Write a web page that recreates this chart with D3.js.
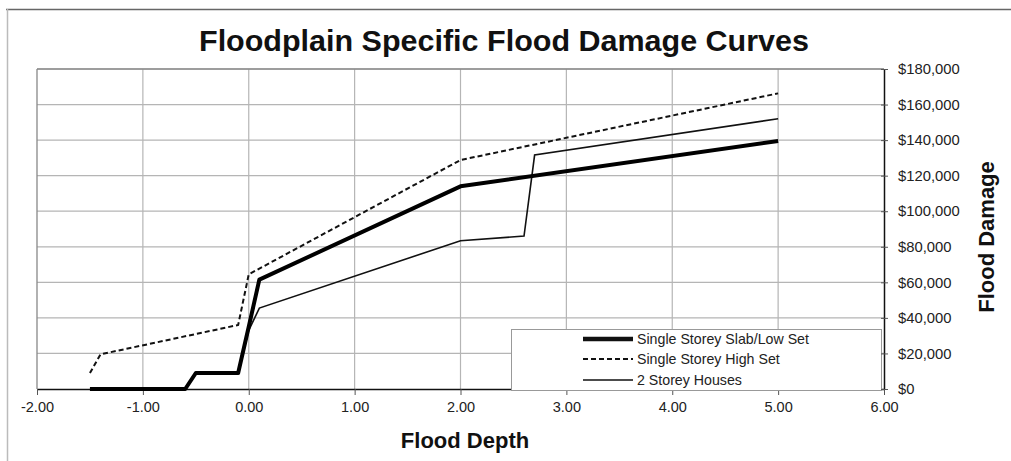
<!DOCTYPE html>
<html><head><meta charset="utf-8">
<script src="https://cdn.jsdelivr.net/npm/d3@7"></script>
<style>
body{margin:0;background:#fff;}
svg{display:block;font-family:"Liberation Sans",Arial,sans-serif;}
</style></head>
<body><svg id="c" width="1011" height="461"></svg>
<script>
const title = "Floodplain Specific Flood Damage Curves";
const xLabel = "Flood Depth";
const yLabel = "Flood Damage";
const xTicks = [-2, -1, 0, 1, 2, 3, 4, 5, 6];
const yTicks = [0, 20000, 40000, 60000, 80000, 100000, 120000, 140000, 160000, 180000];
const seriesNames = ["Single Storey Slab/Low Set", "Single Storey High Set", "2 Storey Houses"];
const slabDepth = [-1.5, -0.6, -0.5, -0.1, 0.0, 0.1, 2.0, 5.0];
const slabDamage = [0, 0, 9000, 9000, 35000, 61500, 114000, 139500];
const highDepth = [-1.5, -1.4, -0.1, 0.0, 2.0, 5.0];
const highDamage = [9000, 19500, 36000, 64500, 128800, 166300];
const twoDepth = [-1.5, -0.6, -0.5, -0.1, 0.0, 0.1, 2.0, 2.6, 2.7, 5.0];
const twoDamage = [0, 0, 9000, 9000, 33000, 45500, 83400, 86000, 131600, 152000];

const svg = d3.select("#c");
const x = d3.scaleLinear().domain([-2, 6]).range([37, 884]);
const y = d3.scaleLinear().domain([0, 180000]).range([389, 69]);

// outer frame
svg.append("line").attr("x1", 6).attr("x2", 1011).attr("y1", 9.5).attr("y2", 9.5).attr("stroke", "#666").attr("stroke-width", 1.5);
svg.append("line").attr("x1", 7.5).attr("x2", 7.5).attr("y1", 9).attr("y2", 461).attr("stroke", "#bbb").attr("stroke-width", 1.5);

// title
svg.append("text").attr("x", 504).attr("y", 51).attr("text-anchor", "middle")
  .attr("font-size", 29).attr("font-weight", "bold").attr("fill", "#111")
  .attr("textLength", 610).attr("lengthAdjust", "spacingAndGlyphs").text(title);

// gridlines
const g = svg.append("g");
g.selectAll(".vg").data(xTicks.filter(d => d > -2 && d < 6)).join("line")
  .attr("x1", d => x(d)).attr("x2", d => x(d)).attr("y1", y(180000)).attr("y2", y(0))
  .attr("stroke", "#b5b5b5").attr("stroke-width", 1.2);
g.selectAll(".hg").data(yTicks.filter(d => d > 0)).join("line")
  .attr("x1", x(-2)).attr("x2", x(6)).attr("y1", d => y(d)).attr("y2", d => y(d))
  .attr("stroke", "#b5b5b5").attr("stroke-width", 1.2);
// plot border left/top
svg.append("line").attr("x1", x(-2)).attr("x2", x(-2)).attr("y1", y(180000)).attr("y2", y(0)).attr("stroke", "#888").attr("stroke-width", 1.3);
svg.append("line").attr("x1", x(-2)).attr("x2", x(6)).attr("y1", y(180000)).attr("y2", y(180000)).attr("stroke", "#888").attr("stroke-width", 1.3);

// x axis
const fmtX = d => d3.format(".2f")(d).replace("\u2212", "-");
const xAxis = svg.append("g").attr("transform", `translate(0,${y(0)})`)
  .call(d3.axisBottom(x).tickValues(xTicks).tickFormat(fmtX).tickSize(6).tickSizeOuter(0));
xAxis.select(".domain").attr("stroke", "#111").attr("stroke-width", 1.5);
xAxis.selectAll(".tick line").attr("stroke", "#555");
xAxis.selectAll(".tick text").attr("font-size", 14.5).attr("fill", "#222").attr("dy", "1em").attr("y", 8)
  .attr("font-family", "'Liberation Sans', Arial, sans-serif");

// series
const line = d3.line().x(d => x(d[0])).y(d => y(d[1]));
const zip = (a, b) => a.map((v, i) => [v, b[i]]);
svg.append("path").datum(zip(highDepth, highDamage)).attr("d", line).attr("fill", "none")
  .attr("stroke", "#111").attr("stroke-width", 2).attr("stroke-dasharray", "5,3");
svg.append("path").datum(zip(twoDepth, twoDamage)).attr("d", line).attr("fill", "none")
  .attr("stroke", "#111").attr("stroke-width", 1.6);
svg.append("path").datum(zip(slabDepth, slabDamage)).attr("d", line).attr("fill", "none")
  .attr("stroke", "#000").attr("stroke-width", 4).attr("stroke-linejoin", "round");

// legend
const lg = svg.append("g");
lg.append("rect").attr("x", 511.5).attr("y", 329.5).attr("width", 370).attr("height", 61)
  .attr("fill", "#fff").attr("stroke", "#999").attr("stroke-width", 1);
const styles = [{w: 4.5, dash: null}, {w: 2, dash: "5,3"}, {w: 1.6, dash: null}];
const rowY = [339, 359, 380];
seriesNames.forEach((name, i) => {
  lg.append("line").attr("x1", 583).attr("x2", 633).attr("y1", rowY[i]).attr("y2", rowY[i])
    .attr("stroke", "#111").attr("stroke-width", styles[i].w).attr("stroke-dasharray", styles[i].dash);
  lg.append("text").attr("x", 637).attr("y", rowY[i]).attr("dy", "0.35em")
    .attr("font-size", 14.2).attr("fill", "#222").text(name);
});

// right y axis
const yAxis = svg.append("g").attr("transform", `translate(${x(6)},0)`)
  .call(d3.axisRight(y).tickValues(yTicks).tickFormat(d => "$" + d3.format(",")(d)).tickSize(4).tickSizeOuter(0));
yAxis.select(".domain").attr("stroke", "#111").attr("stroke-width", 1.5);
yAxis.selectAll(".tick line").attr("stroke", "#555").attr("x1", -3);
yAxis.selectAll(".tick text").attr("font-size", 14.8).attr("fill", "#222").attr("x", 14)
  .attr("font-family", "'Liberation Sans', Arial, sans-serif");

// axis titles
svg.append("text").attr("x", 465).attr("y", 448).attr("text-anchor", "middle")
  .attr("font-size", 22).attr("font-weight", "bold").attr("fill", "#111").text(xLabel);
svg.append("text").attr("transform", "translate(994,237) rotate(-90)").attr("text-anchor", "middle")
  .attr("font-size", 22).attr("font-weight", "bold").attr("fill", "#111").text(yLabel);
</script></body></html>
